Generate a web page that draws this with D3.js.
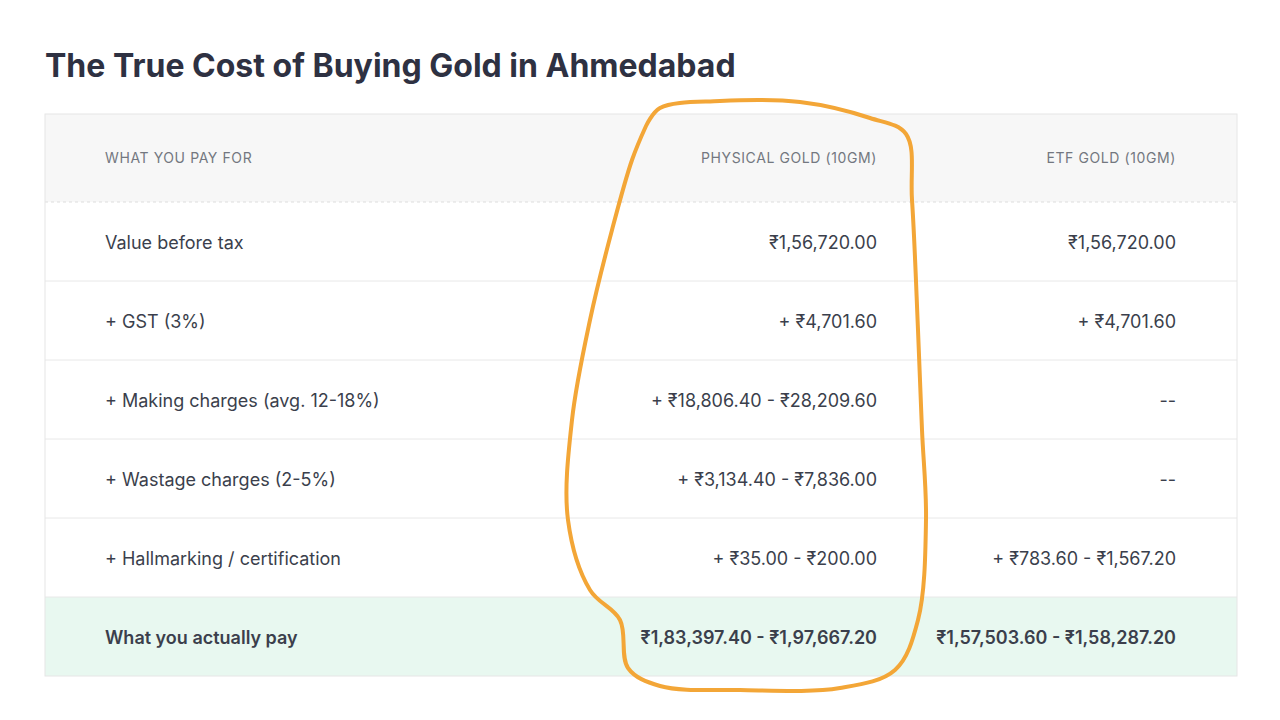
<!DOCTYPE html>
<html><head><meta charset="utf-8">
<script src="https://cdn.jsdelivr.net/npm/d3@7"></script>
<style>body{margin:0;background:#fff}svg{display:block;font-family:Inter,"Noto Sans",sans-serif}</style>
</head><body><svg id="c" width="1280" height="720"></svg>
<script>
const title = "The True Cost of Buying Gold in Ahmedabad";
const headers = ["WHAT YOU PAY FOR", "PHYSICAL GOLD (10GM)", "ETF GOLD (10GM)"];
const items = ["Value before tax", "+ GST (3%)", "+ Making charges (avg. 12-18%)", "+ Wastage charges (2-5%)", "+ Hallmarking / certification", "What you actually pay"];
const physical = ["₹1,56,720.00", "+ ₹4,701.60", "+ ₹18,806.40 - ₹28,209.60", "+ ₹3,134.40 - ₹7,836.00", "+ ₹35.00 - ₹200.00", "₹1,83,397.40 - ₹1,97,667.20"];
const etf = ["₹1,56,720.00", "+ ₹4,701.60", "--", "--", "+ ₹783.60 - ₹1,567.20", "₹1,57,503.60 - ₹1,58,287.20"];
const annotation = [[646,126],[660,108],[720,101],[800,102],[870,118],[906,134],[912,200],[918,330],[922,430],[926,520],[918,620],[895,670],[840,688],[740,690],[660,686],[628,668],[620,620],[590,590],[568,520],[572,420],[590,320],[612,230],[632,160],[646,126]];

const svg = d3.select("#c");
svg.append("text").attr("x",45).attr("y",77).attr("font-size",32).attr("font-weight",700).attr("fill","#2e3142").text(title);

const L=45,R=1237,T0=114,hh=88,rh=79;
const y = d3.scaleLinear().domain([0,1]).range([T0+hh, T0+hh+rh]);
svg.append("rect").attr("x",L).attr("y",T0).attr("width",R-L).attr("height",hh).attr("fill","#f7f7f7");
const rows = svg.selectAll("g.r").data(items).join("g").attr("class","r");
rows.append("rect").attr("x",L).attr("y",(d,i)=>y(i)).attr("width",R-L).attr("height",rh)
  .attr("fill",(d,i)=>i===items.length-1?"#e8f8f0":"#fff");
svg.selectAll("line.sep").data(d3.range(1,items.length)).join("line").attr("class","sep")
  .attr("x1",L).attr("x2",R).attr("y1",d=>y(d)).attr("y2",d=>y(d)).attr("stroke","#e8e8e8");
svg.append("line").attr("x1",L).attr("x2",R).attr("y1",T0+hh).attr("y2",T0+hh).attr("stroke","#ddd").attr("stroke-dasharray","3,3");
svg.append("rect").attr("x",L).attr("y",T0).attr("width",R-L).attr("height",hh+rh*items.length).attr("fill","none").attr("stroke","#e6e6e6");

const cx=[105,877,1176], anchors=["start","end","end"];
headers.forEach((h,j)=>svg.append("text").attr("x",cx[j]).attr("y",T0+hh/2+5).attr("text-anchor",anchors[j])
  .attr("font-size",14).attr("letter-spacing",0.6).attr("fill","#737780").text(h));
[items,physical,etf].forEach((col,j)=>{
  svg.selectAll(null).data(col).join("text").attr("x",cx[j]).attr("y",(d,i)=>y(i)+rh/2+7).attr("text-anchor",anchors[j])
    .attr("font-size",18).attr("font-weight",(d,i)=>i===col.length-1?600:400).attr("fill","#3b3f4c").text(d=>d);
});
svg.append("path").attr("d",d3.line().curve(d3.curveCatmullRom)(annotation)).attr("fill","none")
  .attr("stroke","#f3a637").attr("stroke-width",4).attr("stroke-linecap","round");
</script></body></html>
